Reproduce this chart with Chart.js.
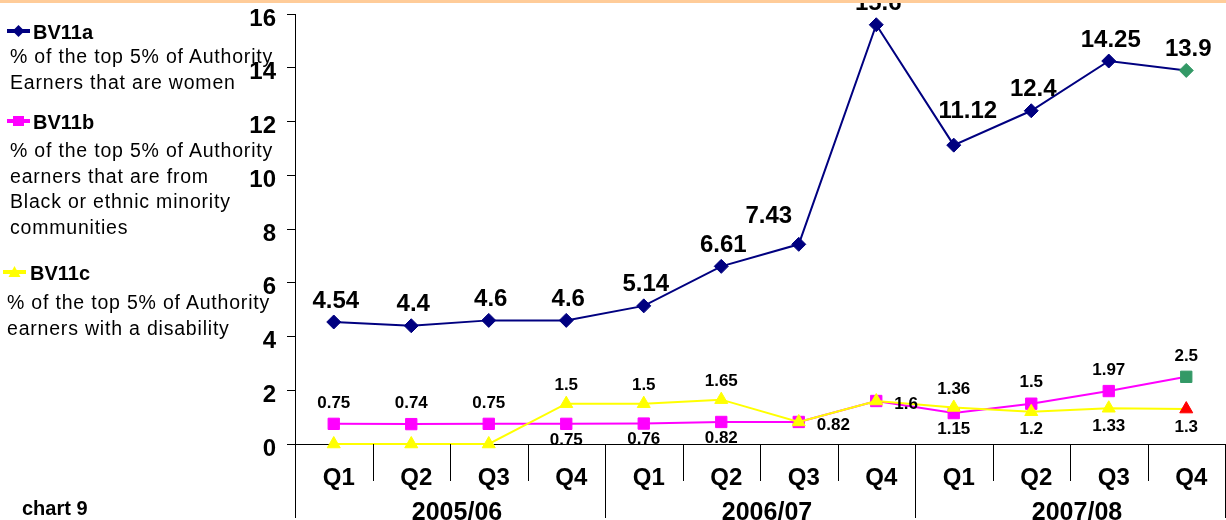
<!DOCTYPE html>
<html>
<head>
<meta charset="utf-8">
<script src="https://cdn.jsdelivr.net/npm/chart.js@4"></script>
<style>
  html, body { margin: 0; padding: 0; background: #fff; overflow: hidden; }
  #wrap { position: relative; width: 1226px; height: 520px; overflow: hidden; }
  #box { position: absolute; left: 0; top: 0; width: 1234px; height: 520px; }
  #topline { position: absolute; left: 0; top: 0; width: 1226px; height: 3px; background: #FFCC99; z-index: 3; }
  .leg { position: absolute; font-family: "Liberation Sans", Arial, sans-serif; color: #000; white-space: nowrap; z-index: 2; }
  .ttl { font-weight: bold; font-size: 20px; line-height: 20px; }
  .desc { font-size: 19.5px; letter-spacing: 0.8px; line-height: 25.5px; }
  .mk { position: absolute; z-index: 2; }
</style>
</head>
<body>
<div id="wrap">
  <div id="box"><canvas id="chart"></canvas></div>
  <div id="topline"></div>

  <svg class="mk" style="left:5px;top:23px" width="28" height="16">
    <line x1="2" y1="8" x2="25" y2="8" stroke="#000080" stroke-width="4"/>
    <polygon points="13.5,2 19.5,8 13.5,14 7.5,8" fill="#000080"/>
  </svg>
  <div class="leg ttl" style="left:33px;top:22px">BV11a</div>
  <div class="leg desc" style="left:10px;top:44px">% of the top 5% of Authority<br>Earners that are women</div>

  <svg class="mk" style="left:5px;top:113px" width="28" height="16">
    <line x1="2" y1="8" x2="25" y2="8" stroke="#FF00FF" stroke-width="4"/>
    <rect x="8" y="3" width="11" height="10" fill="#FF00FF"/>
  </svg>
  <div class="leg ttl" style="left:33px;top:112px">BV11b</div>
  <div class="leg desc" style="left:10px;top:138px">% of the top 5% of Authority<br>earners that are from<br>Black or ethnic minority<br>communities</div>

  <svg class="mk" style="left:2px;top:264px" width="28" height="16">
    <line x1="1" y1="8" x2="24" y2="8" stroke="#FFFF00" stroke-width="4"/>
    <polygon points="12.5,2 18.5,13 6.5,13" fill="#FFFF00"/>
  </svg>
  <div class="leg ttl" style="left:30px;top:263px">BV11c</div>
  <div class="leg desc" style="left:7px;top:290px">% of the top 5% of Authority<br>earners with a disability</div>

  <div class="leg" style="left:22px;top:498px;font-weight:bold;font-size:20px;line-height:20px">chart 9</div>
</div>

<script>
// quarters and financial years
const categories = ['Q1', 'Q2', 'Q3', 'Q4', 'Q1', 'Q2', 'Q3', 'Q4', 'Q1', 'Q2', 'Q3', 'Q4'];
const years = ['2005/06', '2006/07', '2007/08'];

// BV11a - women, BV11b - BME, BV11c - disability
const bv11a = [4.54, 4.4, 4.6, 4.6, 5.14, 6.61, 7.43, 15.6, 11.12, 12.4, 14.25, 13.9];
const bv11b = [0.75, 0.74, 0.75, 0.75, 0.76, 0.82, 0.82, 1.6, 1.15, 1.5, 1.97, 2.5];
const bv11c = [0, 0, 0, 1.5, 1.5, 1.65, 0.82, 1.6, 1.36, 1.2, 1.33, 1.3];

const yTicks = [0, 2, 4, 6, 8, 10, 12, 14, 16];

// where each value label sits (null = no label)
const placeA = ['up', 'up', 'up', 'up', 'up', 'up', 'upLeft', 'up', 'upRight', 'up', 'up', 'up'];
const placeB = ['up', 'up', 'up', 'down', 'down', 'down', 'right', 'right', 'down', 'up', 'up', 'up'];
const placeC = [null, null, null, 'up', 'up', 'up', null, null, 'up', 'down', 'down', 'down'];

const FONT = '"Liberation Sans", Arial, sans-serif';
const navy = '#000080';
const magenta = '#FF00FF';
const yellow = '#FFFF00';
const green = '#339966';
const red = '#FF0000';

function lastColor(n, base, last) {
  const c = [];
  for (let i = 0; i < n; i++) c.push(i === n - 1 ? last : base);
  return c;
}

const valueLabels = {
  id: 'valueLabels',
  afterDatasetsDraw(chart) {
    const ctx = chart.ctx;
    const sets = [
      { idx: 0, place: placeA, size: 24, offs: { up: [2, -21], upLeft: [-30, -28], upRight: [14, -34] } },
      { idx: 1, place: placeB, size: 17, offs: { up: [0, -21], down: [0, 16], right: [18, 3] } },
      { idx: 2, place: placeC, size: 17, offs: { up: [0, -18], down: [0, 18] } }
    ];
    ctx.save();
    ctx.fillStyle = '#000';
    ctx.textBaseline = 'middle';
    sets.forEach(s => {
      const meta = chart.getDatasetMeta(s.idx);
      const vals = chart.data.datasets[s.idx].data;
      ctx.font = 'bold ' + s.size + 'px ' + FONT;
      meta.data.forEach((pt, i) => {
        const p = s.place[i];
        if (!p) return;
        const o = s.offs[p];
        ctx.textAlign = p === 'right' ? 'left' : 'center';
        ctx.fillText(String(vals[i]), pt.x + o[0], pt.y + o[1]);
      });
    });
    ctx.restore();
  }
};

const axisExtras = {
  id: 'axisExtras',
  afterDraw(chart) {
    const ctx = chart.ctx;
    const x = chart.scales.x;
    const bottom = chart.chartArea.bottom;
    const step = x.getPixelForValue(1) - x.getPixelForValue(0);
    ctx.save();
    ctx.strokeStyle = '#000';
    ctx.lineWidth = 1;
    for (let k = 0; k <= categories.length; k++) {
      const px = Math.round(x.getPixelForValue(k) - step / 2) + 0.5;
      const len = (k % 4 === 0) ? 74 : 37;
      ctx.beginPath();
      ctx.moveTo(px, bottom);
      ctx.lineTo(px, bottom + len);
      ctx.stroke();
    }
    ctx.fillStyle = '#000';
    ctx.font = 'bold 25px ' + FONT;
    ctx.textAlign = 'center';
    ctx.textBaseline = 'alphabetic';
    years.forEach((yr, j) => {
      const cx = (x.getPixelForValue(j * 4 + 1) + x.getPixelForValue(j * 4 + 2)) / 2 + 7;
      ctx.fillText(yr, cx, bottom + 76);
    });
    ctx.restore();
  }
};

new Chart(document.getElementById('chart'), {
  type: 'line',
  data: {
    labels: categories,
    datasets: [
      {
        label: 'BV11a',
        data: bv11a,
        order: 0,
        borderColor: navy,
        borderWidth: 2,
        pointStyle: 'rectRot',
        pointRadius: 7,
        pointBackgroundColor: lastColor(bv11a.length, navy, green),
        pointBorderColor: lastColor(bv11a.length, navy, green),
        pointBorderWidth: 1
      },
      {
        label: 'BV11b',
        data: bv11b,
        order: 2,
        borderColor: magenta,
        borderWidth: 2,
        pointStyle: 'rect',
        pointRadius: 8,
        pointBackgroundColor: lastColor(bv11b.length, magenta, green),
        pointBorderColor: lastColor(bv11b.length, magenta, green),
        pointBorderWidth: 1
      },
      {
        label: 'BV11c',
        data: bv11c,
        order: 1,
        borderColor: yellow,
        borderWidth: 2,
        pointStyle: 'triangle',
        pointRadius: 7.5,
        pointBackgroundColor: lastColor(bv11c.length, yellow, red),
        pointBorderColor: lastColor(bv11c.length, yellow, red),
        pointBorderWidth: 1
      }
    ]
  },
  options: {
    responsive: true,
    maintainAspectRatio: false,
    animation: false,
    clip: false,
    layout: { padding: { top: 14, right: 1, bottom: 0, left: 0 } },
    scales: {
      x: {
        offset: true,
        grid: { display: false },
        border: { display: true, color: '#000', width: 1 },
        ticks: {
          color: '#000',
          padding: 12,
          labelOffset: 5,
          maxRotation: 0,
          autoSkip: false,
          font: { family: FONT, size: 24, weight: 'bold' }
        },
        afterFit(scale) { scale.height = 76; }
      },
      y: {
        min: yTicks[0],
        max: yTicks[yTicks.length - 1],
        afterBuildTicks(scale) { scale.ticks = yTicks.map(v => ({ value: v })); },
        grid: { display: true, drawOnChartArea: false, drawTicks: true, tickLength: 8, color: '#000' },
        border: { display: true, color: '#000', width: 1 },
        ticks: {
          color: '#000',
          padding: 11,
          labelOffset: 5,
          font: { family: FONT, size: 24, weight: 'bold' }
        },
        afterFit(scale) {
          scale.width = 295;
          scale.paddingTop = 0;
          scale.paddingBottom = 0;
        }
      }
    },
    plugins: {
      legend: { display: false },
      tooltip: { enabled: false }
    }
  },
  plugins: [valueLabels, axisExtras]
});
</script>
</body>
</html>
